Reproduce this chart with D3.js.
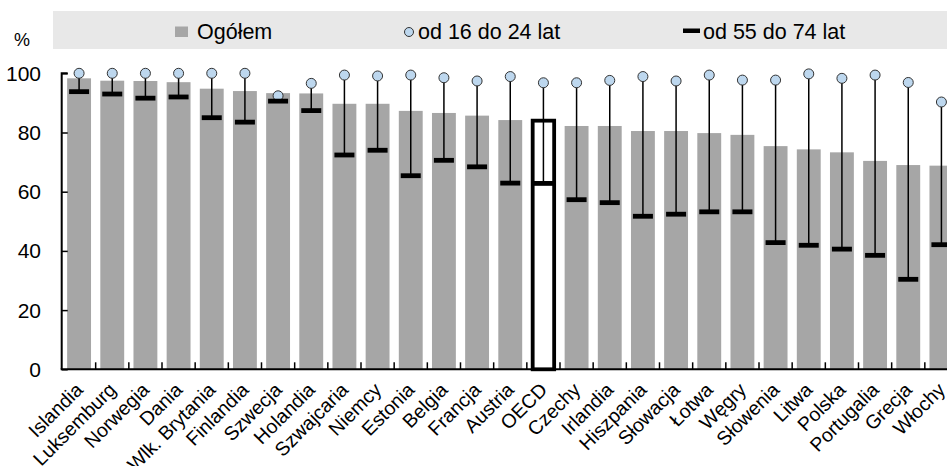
<!DOCTYPE html>
<html><head><meta charset="utf-8">
<script src="https://cdn.jsdelivr.net/npm/d3@7"></script>
<style>
html,body{margin:0;padding:0;background:#fff;}
svg{display:block;font-family:"Liberation Sans",Arial,sans-serif;}
</style></head>
<body><svg id="c" width="947" height="466"></svg>
<script>
const categories = ["Islandia","Luksemburg","Norwegia","Dania","Wlk. Brytania","Finlandia","Szwecja","Holandia","Szwajcaria","Niemcy","Estonia","Belgia","Francja","Austria","OECD","Czechy","Irlandia","Hiszpania","Słowacja","Łotwa","Węgry","Słowenia","Litwa","Polska","Portugalia","Grecja","Włochy"];
const total =   [98.3,97.5,97.4,97.0,94.8,94.0,93.3,93.2,89.7,89.7,87.3,86.6,85.7,84.2,84.0,82.2,82.2,80.5,80.5,79.8,79.2,75.4,74.3,73.3,70.4,69.0,68.8];
const young =   [100,100,100,100,100,100,92.4,96.6,99.4,99.1,99.4,98.5,97.4,98.9,96.8,96.8,97.6,98.9,97.4,99.4,97.7,97.7,99.8,98.3,99.4,96.9,90.3];
const old =     [93.8,93.0,91.6,92.0,85.0,83.5,90.6,87.4,72.4,74.0,65.4,70.6,68.4,62.9,62.8,57.3,56.3,51.7,52.4,53.2,53.2,42.8,41.9,40.6,38.5,30.4,42.1];
const yTicks = [0,20,40,60,80,100];
const legendLabels = ["Ogółem","od 16 do 24 lat","od 55 do 74 lat"];
const unitLabel = "%";
const highlight = "OECD";

const svg = d3.select("#c");
const x0 = 62.5, x1 = 958, yBase = 369.3, yTop = 73.3;
const x = d3.scaleBand().domain(categories).range([x0, x1]).paddingInner(0.28).paddingOuter(0.14);
const y = d3.scaleLinear().domain([0,100]).range([yBase, yTop]);
const step = x.step(), bw = x.bandwidth();
const cx = d => x(d) + bw/2;

// legend background
svg.append("rect").attr("x",53).attr("y",11).attr("width",894).attr("height",38).attr("fill","#e8e8e8");
const lg = svg.append("g").attr("font-size",21.5).attr("fill","#000");
lg.append("rect").attr("x",175).attr("y",26.5).attr("width",13).attr("height",10.5).attr("fill","#a6a6a6");
lg.append("text").attr("x",197).attr("y",38.5).text(legendLabels[0]);
lg.append("circle").attr("cx",409).attr("cy",32).attr("r",4.5).attr("fill","#bdd7ee").attr("stroke","#333").attr("stroke-width",1);
lg.append("text").attr("x",418).attr("y",38.5).text(legendLabels[1]);
lg.append("rect").attr("x",683).attr("y",28.5).attr("width",17).attr("height",4.5).attr("fill","#000");
lg.append("text").attr("x",703).attr("y",38.5).text(legendLabels[2]);

svg.append("text").attr("x",14).attr("y",46).attr("font-size",18).text(unitLabel);

// bars
svg.append("g").selectAll("rect").data(categories).join("rect")
  .attr("x", d => x(d) + (d===highlight ? 1.2 : 0))
  .attr("y", (d,i) => y(total[i]))
  .attr("width", d => d===highlight ? bw-2.4 : bw)
  .attr("height", (d,i) => yBase - y(total[i]))
  .attr("fill", d => d===highlight ? "#fff" : "#a6a6a6")
  .attr("stroke", d => d===highlight ? "#000" : "none")
  .attr("stroke-width", 3.8);

// range lines
svg.append("g").selectAll("line").data(categories).join("line")
  .attr("x1", cx).attr("x2", cx)
  .attr("y1", (d,i) => y(young[i])).attr("y2", (d,i) => y(old[i]))
  .attr("stroke","#000").attr("stroke-width",1.5);

// circles
svg.append("g").selectAll("circle").data(categories).join("circle")
  .attr("cx", cx).attr("cy", (d,i) => y(young[i])).attr("r", 5)
  .attr("fill","#bdd7ee").attr("stroke","#333").attr("stroke-width",1);

// markers
svg.append("g").selectAll("rect").data(categories).join("rect")
  .attr("x", d => cx(d) - 10).attr("y", (d,i) => y(old[i]) - 2.4)
  .attr("width", 20).attr("height", 4.8).attr("fill","#000");

// y axis
const ya = svg.append("g").attr("transform",`translate(${x0-0.8},0)`)
  .call(d3.axisRight(y).tickValues(yTicks).tickSize(6).tickFormat(""));
ya.select(".domain").attr("stroke","#000").attr("stroke-width",2).attr("d",`M6,${y(100)}H0V${yBase}`);
ya.selectAll(".tick line").attr("stroke","#000").attr("stroke-width",1.5);
svg.append("g").attr("font-size",21).selectAll("text").data(yTicks).join("text")
  .attr("x",41).attr("y", d => y(d)).attr("dy","0.36em").attr("text-anchor","end").text(d => d);

// x axis
const xa = svg.append("g").attr("transform",`translate(0,${yBase})`)
  .call(d3.axisBottom(x).tickSize(0).tickFormat(""));
xa.select(".domain").attr("stroke","#000").attr("stroke-width",2).attr("d",`M${x0-1.8},0H${x1}`);
svg.append("g").selectAll("line").data(categories.slice(0,-1)).join("line")
  .attr("x1", d => cx(d)+step/2).attr("x2", d => cx(d)+step/2)
  .attr("y1", yBase).attr("y2", yBase-7).attr("stroke","#000").attr("stroke-width",1.5);
svg.append("g").attr("font-size",19.5).selectAll("text").data(categories).join("text")
  .attr("text-anchor","end")
  .attr("transform", d => `translate(${cx(d)+5},${391}) rotate(-45)`)
  .text(d => d);
</script></body></html>
